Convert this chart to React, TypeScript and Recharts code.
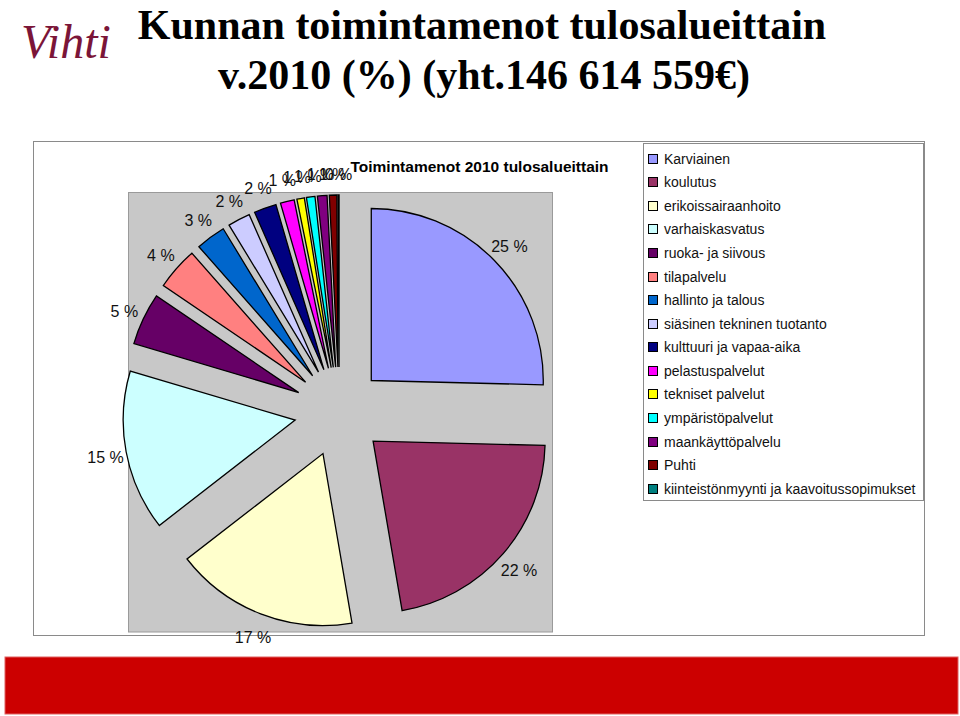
import React from "react";
import { PieChart, Pie, Sector, Legend } from "recharts";

const CATEGORIES = [
  "Karviainen",
  "koulutus",
  "erikoissairaanhoito",
  "varhaiskasvatus",
  "ruoka- ja siivous",
  "tilapalvelu",
  "hallinto ja talous",
  "siäsinen tekninen tuotanto",
  "kulttuuri ja vapaa-aika",
  "pelastuspalvelut",
  "tekniset palvelut",
  "ympäristöpalvelut",
  "maankäyttöpalvelu",
  "Puhti",
  "kiinteistönmyynti ja kaavoitussopimukset",
];

const VALUES = [25.4, 21.9, 17.2, 15.1, 4.9, 4.0, 2.8, 2.1, 2.1, 1.3, 0.7, 0.8, 0.9, 0.7, 0.1];

const COLORS = [
  "#9999FF",
  "#993366",
  "#FFFFCC",
  "#CCFFFF",
  "#660066",
  "#FF8080",
  "#0066CC",
  "#CCCCFF",
  "#000080",
  "#FF00FF",
  "#FFFF00",
  "#00FFFF",
  "#800080",
  "#800000",
  "#008080",
];

const TITLE_LINE1 = "Kunnan toimintamenot tulosalueittain";
const TITLE_LINE2 = "v.2010 (%) (yht.146 614 559€)";
const CHART_TITLE = "Toimintamenot 2010 tulosalueittain";

const data = CATEGORIES.map((name, i) => ({ name, value: VALUES[i] }));

const SANS = "'Liberation Sans', Arial, sans-serif";
const SERIF = "'Liberation Serif', 'Times New Roman', serif";
const RAD = Math.PI / 180;
const EXPLODE = 44.8;
const LABEL_GAP_X = 21;
const LABEL_GAP_Y = 23;

const renderSlice = (props: any) => {
  const { cx, cy, midAngle, outerRadius, startAngle, endAngle, index, percent } = props;
  const ux = Math.cos(-midAngle * RAD);
  const uy = Math.sin(-midAngle * RAD);
  const sx = cx + ux * EXPLODE;
  const sy = cy + uy * EXPLODE;
  return (
    <g key={`slice-${index}`}>
      <Sector
        cx={sx}
        cy={sy}
        innerRadius={0}
        outerRadius={outerRadius}
        startAngle={startAngle}
        endAngle={endAngle}
        fill={COLORS[index]}
        stroke="#000"
        strokeWidth={1.3}
      />
      <text
        x={sx + ux * (outerRadius + LABEL_GAP_X)}
        y={sy + uy * (outerRadius + LABEL_GAP_Y) + 2}
        textAnchor="middle"
        dominantBaseline="central"
        fontFamily={SANS}
        fontSize={16}
        fill="#111"
      >
        {`${Math.round(percent * 100)} %`}
      </text>
    </g>
  );
};

const LegendBox = () => (
  <div
    style={{
      width: 281,
      height: 358,
      border: "1px solid #8a8a8a",
      background: "#fff",
      boxSizing: "border-box",
      paddingTop: 3,
      fontFamily: SANS,
      fontSize: 14,
      color: "#111",
    }}
  >
    {CATEGORIES.map((c, i) => (
      <div
        key={c}
        style={{ height: 23.57, display: "flex", alignItems: "center", whiteSpace: "nowrap" }}
      >
        <span
          style={{
            display: "inline-block",
            width: 8,
            height: 8,
            marginLeft: 4,
            marginRight: 6,
            background: COLORS[i],
            border: "1px solid #000",
          }}
        />
        <span>{c}</span>
      </div>
    ))}
  </div>
);

export default function App() {
  return (
    <div style={{ position: "absolute", left: 0, top: 0, width: 960, height: 716, background: "#fff" }}>
      <svg
        width={960}
        height={716}
        style={{ position: "absolute", left: 0, top: 0 }}
      >
        <text
          x={66}
          y={58}
          textAnchor="middle"
          fontFamily={SERIF}
          fontStyle="italic"
          fontSize={48}
          fill="#7B1538"
        >
          Vihti
        </text>
        <text x={482} y={39} textAnchor="middle" fontFamily={SERIF} fontWeight="bold" fontSize={42} fill="#000">
          {TITLE_LINE1}
        </text>
        <text x={484} y={89} textAnchor="middle" fontFamily={SERIF} fontWeight="bold" fontSize={42} fill="#000">
          {TITLE_LINE2}
        </text>
        <rect x={33.5} y={141.5} width={891} height={494} fill="#fff" stroke="#8a8a8a" strokeWidth={1} />
        <rect x={128.5} y={192.5} width={424} height={439.5} fill="#C8C8C8" stroke="#9a9a9a" strokeWidth={1} />
        <text
          x={479.5}
          y={172}
          textAnchor="middle"
          fontFamily={SANS}
          fontWeight="bold"
          fontSize={15.5}
          fill="#000"
        >
          {CHART_TITLE}
        </text>
        <rect x={5} y={657} width={953} height={57} fill="#CC0000" stroke="#e06060" strokeWidth={1} />
      </svg>
      <div style={{ position: "absolute", left: 0, top: 0 }}>
        <PieChart width={960} height={716} margin={{ top: 0, right: 0, bottom: 0, left: 0 }}>
          <Pie
            data={data}
            dataKey="value"
            nameKey="name"
            cx={339.2}
            cy={411.8}
            outerRadius={172}
            startAngle={90}
            endAngle={-270}
            fill="none"
            stroke="none"
            label={renderSlice}
            labelLine={false}
            isAnimationActive={false}
          />
          <Legend
            layout="vertical"
            align="right"
            verticalAlign="middle"
            content={() => <LegendBox />}
            wrapperStyle={{ left: 643, top: 143, width: 281, height: 358, right: "auto", bottom: "auto" }}
          />
        </PieChart>
      </div>
    </div>
  );
}
